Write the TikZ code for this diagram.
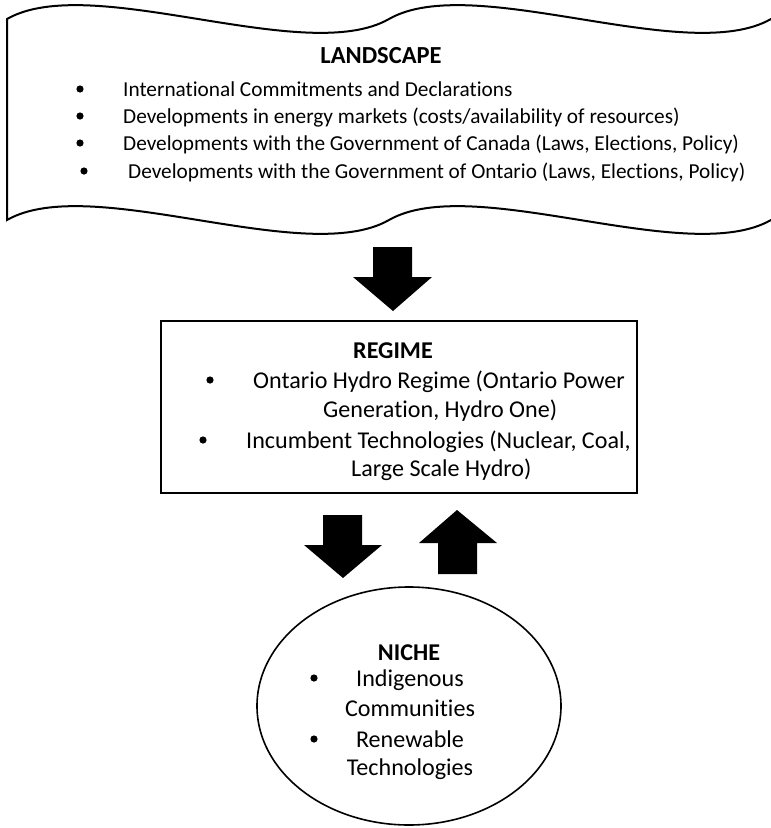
\documentclass[tikz,border=0pt]{standalone}
\usepackage{fontspec}
\setmainfont{Carlito}[Ligatures={NoCommon,NoContextual}]
\usetikzlibrary{shapes.geometric}
\begin{document}
\begin{tikzpicture}[x=1pt,y=-1pt,
  ltxt/.style={anchor=base west, inner sep=0pt, font=\fontsize{21.3}{25}\selectfont},
  rtxt/.style={anchor=base west, inner sep=0pt, font=\fontsize{24.1}{28}\selectfont},
  ttl/.style={anchor=base, inner sep=0pt, font=\bfseries\fontsize{#1}{28}\selectfont},
  dot/.style={circle, fill=black, inner sep=0pt, minimum size=7.2pt},
  blockarrow/.style={fill=black, draw=none},
  outline/.style={draw=black, line width=2pt}]
\useasboundingbox (0,0) rectangle (771,828);

% Landscape wave shape
\draw[outline, line join=miter]
  (7,220) -- (7,19)
  .. controls (91,-29) and (305,67) .. (389,19)
  .. controls (473,-29) and (687,67) .. (771,19)
  -- (775,19) -- (775,220) -- (771,220)
  .. controls (687,268) and (473,172) .. (389,220)
  .. controls (305,268) and (91,172) .. (7,220) -- cycle;

\node[ttl=24.5] (landscape) at (381,63) {LANDSCAPE};
\node[dot] (lb1) at (80,89) {};
\node[dot] (lb2) at (80,116) {};
\node[dot] (lb3) at (80,143) {};
\node[dot] (lb4) at (84,171) {};
\node[ltxt] (l1) at (123,96) {International Commitments and Declarations};
\node[ltxt] (l2) at (123,123) {Developments in energy markets (costs/availability of resources)};
\node[ltxt] (l3) at (123,150) {Developments with the Government of Canada (Laws, Elections, Policy)};
\node[ltxt] (l4) at (128,178) {Developments with the Government of Ontario (Laws, Elections, Policy)};

% arrow landscape -> regime
\fill[blockarrow] (373,247) -- (412,247) -- (412,277) -- (432,277) -- (393,311) -- (353,277) -- (373,277) -- cycle;

% Regime box
\draw[outline] (161,321) rectangle (637,493);
\node[ttl=24.1] (regime) at (393,358) {REGIME};
\node[dot] (rb1) at (210,380) {};
\node[dot] (rb2) at (203,440) {};
\node[rtxt] (r1) at (253,388) {Ontario Hydro Regime (Ontario Power};
\node[rtxt] (r2) at (323,417) {Generation, Hydro One)};
\node[rtxt] (r3) at (246,448) {Incumbent Technologies (Nuclear, Coal,};
\node[rtxt] (r4) at (351,476) {Large Scale Hydro)};

% arrows regime <-> niche
\fill[blockarrow] (323,515) -- (362,515) -- (362,545) -- (382,545) -- (343,578) -- (304,545) -- (323,545) -- cycle;
\fill[blockarrow] (438,574) -- (477,574) -- (477,543) -- (497,543) -- (457,510) -- (419,543) -- (438,543) -- cycle;

% Niche ellipse
\draw[line width=1.6pt] (409,706) ellipse [x radius=152, y radius=119];
\node[ttl=24.1] (niche) at (409,660) {NICHE};
\node[dot] (nb1) at (314,678) {};
\node[dot] (nb2) at (314,739) {};
\node[rtxt, anchor=base] (n1) at (410,686) {Indigenous};
\node[rtxt, anchor=base] (n2) at (410,716) {Communities};
\node[rtxt, anchor=base] (n3) at (410,747) {Renewable};
\node[rtxt, anchor=base] (n4) at (410,775) {Technologies};
\end{tikzpicture}
\end{document}
